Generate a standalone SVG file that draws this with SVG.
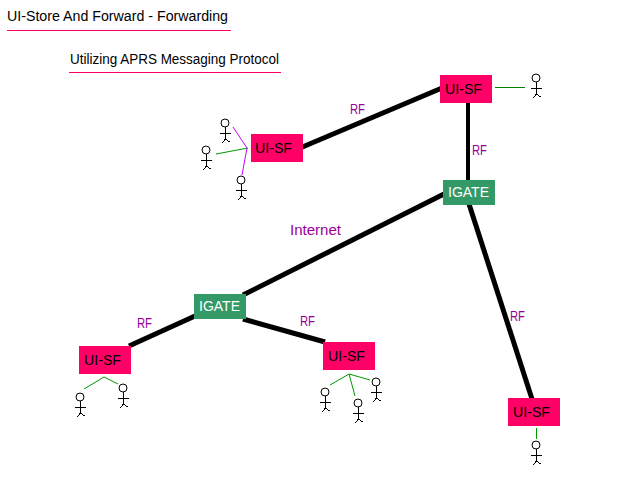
<svg xmlns="http://www.w3.org/2000/svg" xmlns:xlink="http://www.w3.org/1999/xlink" width="640" height="480" viewBox="0 0 640 480">
<style>
text{font-family:"Liberation Sans",Arial,sans-serif;font-size:14px}
.title{fill:#000}
.rf{fill:#990099}
.box{fill:#ff0066}
.gate{fill:#339966}
.lbl{fill:#000}
.glbl{fill:#fff}
.link{stroke:#000;stroke-width:5;fill:none;stroke-linecap:butt}
.g{stroke:#009900;stroke-width:1;fill:none}
.p{stroke:#cc00ff;stroke-width:1;fill:none}
.ul{stroke:#ff0066;stroke-width:1;shape-rendering:crispEdges}
.fig{stroke:#000;stroke-width:1;fill:#fff}
</style>
<defs>
<g id="man" class="fig">
<circle cx="0" cy="0" r="4"/>
<path d="M0.5 4V16M-5.5 10H6M0.5 16L-2.5 20M0.5 16L4.5 19" fill="none" shape-rendering="crispEdges"/>
</g>
</defs>
<g id="titles">
<text class="title" x="7" y="21" textLength="221" lengthAdjust="spacingAndGlyphs">UI-Store And Forward - Forwarding</text>
<line class="ul" x1="7" y1="30.500" x2="231" y2="30.500"/>
<text class="title" x="70" y="64" textLength="209" lengthAdjust="spacingAndGlyphs">Utilizing APRS Messaging Protocol</text>
<line class="ul" x1="69" y1="72.500" x2="281" y2="72.500"/>
</g>
<g id="connectors">
<line class="link" x1="300" y1="148" x2="442" y2="88"/>
<line class="link" x1="468" y1="99" x2="468" y2="181" style="stroke-width:4"/>
<line class="link" x1="444" y1="194" x2="243" y2="295"/>
<line class="link" x1="469" y1="204" x2="532" y2="399"/>
<line class="link" x1="195" y1="316" x2="129" y2="346"/>
<line class="link" x1="243" y1="319" x2="325" y2="342"/>
<path class="p" d="M233 127L247 148L242 175"/>
<line class="g" x1="216" y1="154" x2="248" y2="148"/>
<line class="g" x1="495" y1="87.500" x2="525" y2="87.500" style="stroke:#008000"/>
<path class="g" d="M84 389L104 377L118 384"/>
<path class="g" d="M330 385L349 374L370 380M349 374L355 396"/>
<line class="g" x1="536.500" y1="428" x2="536.500" y2="439"/>
</g>
<g id="node-sf-top"><rect class="box" x="440" y="75" width="52" height="28"/><text class="lbl" x="445" y="94" textLength="37" lengthAdjust="spacingAndGlyphs">UI-SF</text></g>
<g id="node-sf-left"><rect class="box" x="251" y="134" width="52" height="28"/><text class="lbl" x="255" y="153" textLength="37" lengthAdjust="spacingAndGlyphs">UI-SF</text></g>
<g id="node-igate-1"><rect class="gate" x="443" y="180" width="52" height="25"/><text class="glbl" x="448" y="197" textLength="41" lengthAdjust="spacingAndGlyphs">IGATE</text></g>
<g id="node-igate-2"><rect class="gate" x="194" y="294" width="52" height="25"/><text class="glbl" x="199" y="311" textLength="41" lengthAdjust="spacingAndGlyphs">IGATE</text></g>
<g id="node-sf-bl"><rect class="box" x="79" y="346" width="52" height="28"/><text class="lbl" x="84" y="365" textLength="37" lengthAdjust="spacingAndGlyphs">UI-SF</text></g>
<g id="node-sf-mid"><rect class="box" x="323" y="342" width="52" height="28"/><text class="lbl" x="328" y="361" textLength="37" lengthAdjust="spacingAndGlyphs">UI-SF</text></g>
<g id="node-sf-right"><rect class="box" x="508" y="398" width="52" height="28"/><text class="lbl" x="513" y="417" textLength="37" lengthAdjust="spacingAndGlyphs">UI-SF</text></g>
<g id="labels">
<text class="rf" x="350" y="114" textLength="15" lengthAdjust="spacingAndGlyphs">RF</text>
<text class="rf" x="472" y="155" textLength="15" lengthAdjust="spacingAndGlyphs">RF</text>
<text class="rf" x="290" y="235" textLength="51" lengthAdjust="spacingAndGlyphs">Internet</text>
<text class="rf" x="137" y="328" textLength="15" lengthAdjust="spacingAndGlyphs">RF</text>
<text class="rf" x="300" y="326" textLength="15" lengthAdjust="spacingAndGlyphs">RF</text>
<text class="rf" x="510" y="321" textLength="15" lengthAdjust="spacingAndGlyphs">RF</text>
</g>
<g id="people">
<use xlink:href="#man" href="#man" x="225" y="123"/>
<use xlink:href="#man" href="#man" x="206" y="150"/>
<use xlink:href="#man" href="#man" x="241" y="180"/>
<use xlink:href="#man" href="#man" x="536" y="78"/>
<use xlink:href="#man" href="#man" x="80" y="397"/>
<use xlink:href="#man" href="#man" x="123" y="388"/>
<use xlink:href="#man" href="#man" x="325" y="392"/>
<use xlink:href="#man" href="#man" x="358" y="403"/>
<use xlink:href="#man" href="#man" x="376" y="382"/>
<use xlink:href="#man" href="#man" x="536" y="445"/>
</g>
</svg>
